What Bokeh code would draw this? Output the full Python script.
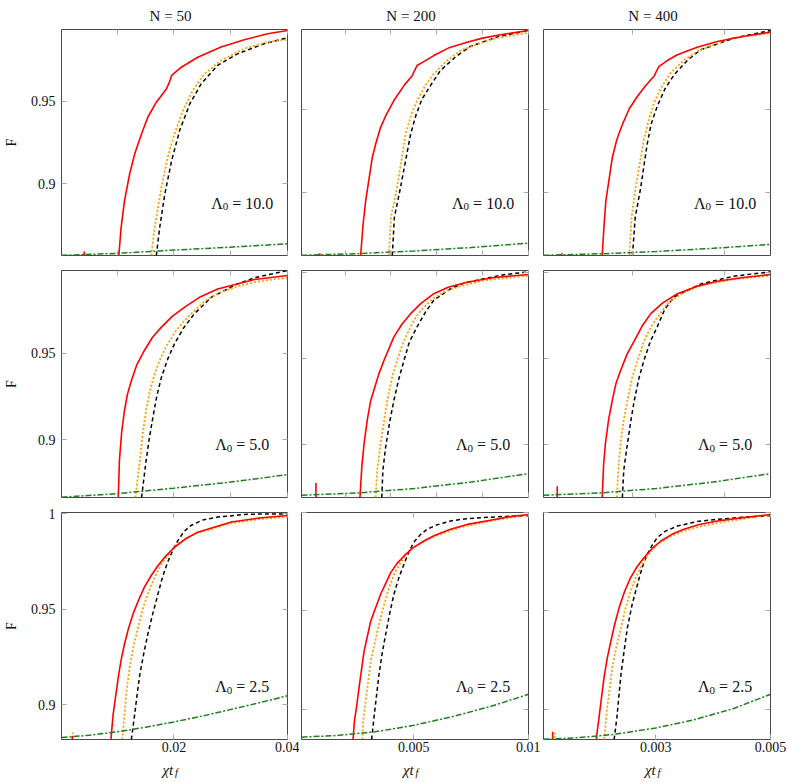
import math
import numpy as np
from bokeh.plotting import figure
from bokeh.layouts import row, column
from bokeh.models import Label, LinearAxis, FixedTicker, Range1d
from bokeh.embed import file_html
from bokeh.resources import INLINE

nan = float("nan")

# ---------------- categories / axes ----------------
COL_N = [50, 200, 400]
ROW_LAMBDA = ["10.0", "5.0", "2.5"]
X_LIMITS = [(0.0002, 0.04), (0.0001, 0.01), (0.00005, 0.005)]
Y_LIMITS = [[(0.8561, 0.9939), (0.8621, 0.9982), (0.8621, 0.9982)],
            [(0.8666, 0.9977), (0.8692, 1.0013), (0.8692, 1.0013)],
            [(0.8818, 1.0007), (0.8846, 1.0001), (0.8846, 1.0001)]]
X_TICKS_INNER = [[0.01, 0.02, 0.03, 0.04], [0.002, 0.004, 0.006, 0.008, 0.01], [0.002, 0.004]]
X_TICKS_BOTTOM = [[0.02, 0.04], [0.005, 0.01], [0.0025, 0.005]]
X_TICK_LABELS_BOTTOM = [["0.02", "0.04"], ["0.005", "0.01"], ["0.003", "0.005"]]
Y_TICKS = [0.85, 0.9, 0.95, 1.0]
Y_TICK_LABELS = ["0.85", "0.9", "0.95", "1"]
X_LABEL_MAIN = "χt"
X_LABEL_SUB = "f"
Y_LABEL = "F"

# ---------------- data: Lambda0 = 10.0 ----------------
red_x_L10_N50 = [0.0042, 0.0042, nan, 0.0103, 0.0107, 0.0113, 0.0122, 0.0131, 0.0143, 0.0154, 0.0169, 0.0187, 0.0192, 0.0196, 0.0213, 0.0242, 0.0283, 0.0324, 0.0365, 0.0400]
red_F_L10_N50 = [0.850, 0.8585, nan, 0.8561, 0.8733, 0.8896, 0.9059, 0.9181, 0.9303, 0.9404, 0.9496, 0.9578, 0.9618, 0.9659, 0.9709, 0.9770, 0.9832, 0.9877, 0.9913, 0.9933]
orange_x_L10_N50 = [0.0160, 0.0166, 0.0178, 0.0189, 0.0201, 0.0216, 0.0233, 0.0254, 0.0283, 0.0324, 0.0365, 0.0400]
orange_F_L10_N50 = [0.8561, 0.8733, 0.8977, 0.9160, 0.9303, 0.9445, 0.9567, 0.9669, 0.9750, 0.9822, 0.9862, 0.9878]
black_x_L10_N50 = [0.0169, 0.0175, 0.0184, 0.0196, 0.0210, 0.0228, 0.0248, 0.0277, 0.0312, 0.0359, 0.0400]
black_F_L10_N50 = [0.8561, 0.8733, 0.8937, 0.9140, 0.9323, 0.9486, 0.9608, 0.9720, 0.9791, 0.9852, 0.9889]
green_x_L10_N50 = [0.0002, 0.01, 0.02, 0.03, 0.04]
green_F_L10_N50 = [0.8562, 0.8574, 0.8594, 0.8612, 0.8632]

red_x_L10_N200 = [0.0009, 0.0009, nan, 0.00268, 0.00278, 0.00290, 0.00319, 0.00335, 0.00355, 0.00380, 0.00413, 0.00460, 0.00493, 0.00503, 0.00514, 0.00545, 0.00587, 0.00650, 0.00732, 0.00800, 0.00877, 0.01]
red_F_L10_N200 = [0.855, 0.8635, nan, 0.8621, 0.8800, 0.8952, 0.9213, 0.9300, 0.9393, 0.9470, 0.9554, 0.9650, 0.9704, 0.9735, 0.9765, 0.9790, 0.9825, 0.9870, 0.9905, 0.9930, 0.9950, 0.9976]
orange_x_L10_N200 = [0.00391, 0.00400, 0.00427, 0.00464, 0.00490, 0.00514, 0.00550, 0.00587, 0.00640, 0.00703, 0.00780, 0.00862, 0.01]
orange_F_L10_N200 = [0.8621, 0.8850, 0.9032, 0.9353, 0.9475, 0.9554, 0.9645, 0.9715, 0.9790, 0.9855, 0.9895, 0.9931, 0.9962]
black_x_L10_N200 = [0.00406, 0.00415, 0.00442, 0.00486, 0.00510, 0.00536, 0.00580, 0.00616, 0.00680, 0.00746, 0.00870, 0.01]
black_F_L10_N200 = [0.8621, 0.8850, 0.9032, 0.9353, 0.9470, 0.9564, 0.9660, 0.9735, 0.9815, 0.9880, 0.9940, 0.9976]
green_x_L10_N200 = [0.0001, 0.0025, 0.005, 0.0075, 0.01]
green_F_L10_N200 = [0.8622, 0.8632, 0.8648, 0.8669, 0.8695]

red_x_L10_N400 = [0.00045, 0.00045, nan, 0.00133, 0.00137, 0.00141, 0.00155, 0.00165, 0.00177, 0.00192, 0.00210, 0.00228, 0.00246, 0.00252, 0.00257, 0.00275, 0.00297, 0.00340, 0.00384, 0.0044, 0.005]
red_F_L10_N400 = [0.855, 0.8635, nan, 0.8621, 0.8800, 0.8950, 0.9210, 0.9320, 0.9410, 0.9505, 0.9580, 0.9645, 0.9700, 0.9735, 0.9760, 0.9795, 0.9830, 0.9875, 0.9910, 0.9940, 0.9966]
orange_x_L10_N400 = [0.00192, 0.00197, 0.00206, 0.00224, 0.00235, 0.00246, 0.00260, 0.00282, 0.00310, 0.00340, 0.00413, 0.005]
orange_F_L10_N400 = [0.8621, 0.8850, 0.9030, 0.9320, 0.9440, 0.9540, 0.9625, 0.9720, 0.9795, 0.9850, 0.9930, 0.9960]
black_x_L10_N400 = [0.00199, 0.00205, 0.00217, 0.00231, 0.00240, 0.00253, 0.00270, 0.00290, 0.00320, 0.00348, 0.0042, 0.005]
black_F_L10_N400 = [0.8621, 0.8850, 0.9030, 0.9290, 0.9415, 0.9520, 0.9625, 0.9710, 0.9800, 0.9860, 0.9930, 0.9976]
green_x_L10_N400 = [0.00005, 0.00125, 0.0025, 0.00375, 0.005]
green_F_L10_N400 = [0.8622, 0.8631, 0.8645, 0.8664, 0.8688]

# ---------------- data: Lambda0 = 5.0 ----------------
red_x_L5_N50 = [0.0102, 0.0104, 0.0108, 0.0113, 0.0118, 0.0125, 0.0135, 0.0148, 0.0162, 0.0178, 0.0197, 0.0219, 0.0245, 0.0277, 0.0342, 0.04]
red_F_L5_N50 = [0.8666, 0.8880, 0.9045, 0.9170, 0.9260, 0.9340, 0.9435, 0.9515, 0.9590, 0.9650, 0.9712, 0.9765, 0.9822, 0.9870, 0.9925, 0.9948]
orange_x_L5_N50 = [0.0132, 0.0140, 0.0145, 0.0151, 0.0158, 0.0166, 0.0177, 0.0189, 0.0205, 0.0224, 0.0254, 0.0280, 0.0312, 0.0350, 0.04]
orange_F_L5_N50 = [0.8666, 0.8880, 0.9035, 0.9170, 0.9285, 0.9380, 0.9475, 0.9554, 0.9635, 0.9707, 0.9800, 0.9848, 0.9885, 0.9915, 0.9935]
black_x_L5_N50 = [0.0143, 0.0151, 0.0157, 0.0163, 0.0170, 0.0178, 0.0189, 0.0201, 0.0217, 0.0236, 0.0266, 0.0312, 0.0342, 0.04]
black_F_L5_N50 = [0.8666, 0.8880, 0.9015, 0.9130, 0.9255, 0.9360, 0.9465, 0.9554, 0.9645, 0.9727, 0.9823, 0.9900, 0.9935, 0.9977]
green_x_L5_N50 = [0.0002, 0.01, 0.02, 0.03, 0.04]
green_F_L5_N50 = [0.8668, 0.8688, 0.8720, 0.8755, 0.8798]

red_x_L5_N200 = [0.00073, 0.00073, nan, 0.00265, 0.00273, 0.00283, 0.00297, 0.00312, 0.00348, 0.0037, 0.00413, 0.00448, 0.00486, 0.0053, 0.00587, 0.0065, 0.00732, 0.0085, 0.01]
red_F_L5_N200 = [0.860, 0.8776, nan, 0.8692, 0.8870, 0.9006, 0.9145, 0.9257, 0.9413, 0.9491, 0.9627, 0.9700, 0.9762, 0.9820, 0.9878, 0.9915, 0.9945, 0.9972, 0.9990]
orange_x_L5_N200 = [0.00333, 0.00340, 0.00355, 0.00384, 0.00405, 0.00427, 0.00455, 0.00486, 0.0051, 0.00544, 0.0058, 0.00631, 0.0070, 0.00804, 0.01]
orange_F_L5_N200 = [0.8692, 0.8850, 0.9006, 0.9257, 0.9390, 0.9490, 0.9600, 0.9685, 0.9745, 0.9800, 0.9845, 0.9888, 0.9920, 0.9955, 0.9983]
black_x_L5_N200 = [0.00360, 0.00365, 0.00377, 0.00395, 0.00413, 0.00435, 0.00457, 0.0048, 0.00514, 0.0055, 0.00587, 0.0066, 0.0072, 0.00804, 0.009, 0.01]
black_F_L5_N200 = [0.8692, 0.8850, 0.8986, 0.9135, 0.9257, 0.9385, 0.9490, 0.9595, 0.9685, 0.9770, 0.9840, 0.9907, 0.9940, 0.9965, 0.9990, 1.0005]
green_x_L5_N200 = [0.0001, 0.0025, 0.005, 0.0075, 0.01]
green_F_L5_N200 = [0.8705, 0.8718, 0.8744, 0.8782, 0.8831]

red_x_L5_N400 = [0.00035, 0.00035, nan, 0.00133, 0.00136, 0.00140, 0.00147, 0.00155, 0.00163, 0.00173, 0.00187, 0.00203, 0.0022, 0.00239, 0.00265, 0.00297, 0.0034, 0.00384, 0.0044, 0.005]
red_F_L5_N400 = [0.860, 0.8757, nan, 0.8692, 0.8880, 0.9006, 0.9145, 0.9257, 0.9355, 0.9430, 0.9525, 0.9604, 0.9690, 0.9762, 0.9825, 0.9878, 0.9922, 0.9950, 0.9972, 0.9990]
orange_x_L5_N400 = [0.00165, 0.00168, 0.00173, 0.00180, 0.00188, 0.00198, 0.00210, 0.00224, 0.00239, 0.00275, 0.0031, 0.00348, 0.0042, 0.005]
orange_F_L5_N400 = [0.8692, 0.8850, 0.9006, 0.9145, 0.9257, 0.9385, 0.9490, 0.9600, 0.9685, 0.9820, 0.9885, 0.9925, 0.9962, 0.9983]
black_x_L5_N400 = [0.00177, 0.00180, 0.00187, 0.00195, 0.00203, 0.00213, 0.00224, 0.00238, 0.00253, 0.0027, 0.0029, 0.00348, 0.0042, 0.005]
black_F_L5_N400 = [0.8692, 0.8850, 0.8986, 0.9130, 0.9257, 0.9385, 0.9490, 0.9600, 0.9685, 0.9790, 0.9859, 0.9935, 0.9980, 1.0005]
green_x_L5_N400 = [0.00005, 0.00125, 0.0025, 0.00375, 0.005]
green_F_L5_N400 = [0.8705, 0.8718, 0.8744, 0.8782, 0.8831]

# ---------------- data: Lambda0 = 2.5 ----------------
red_x_L2_N50 = [0.0021, 0.0021, nan, 0.0089, 0.0093, 0.0102, 0.0107, 0.0113, 0.0120, 0.0128, 0.0138, 0.0148, 0.0160, 0.0172, 0.0186, 0.0201, 0.0220, 0.0242, 0.0301, 0.0350, 0.04]
red_F_L2_N50 = [0.870, 0.8838, nan, 0.8818, 0.8951, 0.9143, 0.9235, 0.9318, 0.9400, 0.9476, 0.9550, 0.9616, 0.9677, 0.9729, 0.9780, 0.9825, 0.9868, 0.9904, 0.9957, 0.9978, 0.9991]
orange_x_L2_N50 = [0.0022, 0.0022, nan, 0.0109, 0.0113, 0.0117, 0.0122, 0.0129, 0.0137, 0.0145, 0.0154, 0.0165, 0.0178, 0.0201, 0.0220, 0.0242, 0.0300, 0.0350, 0.04]
orange_F_L2_N50 = [0.870, 0.8855, nan, 0.8818, 0.8951, 0.9085, 0.9196, 0.9310, 0.9406, 0.9500, 0.9581, 0.9660, 0.9738, 0.9830, 0.9870, 0.9900, 0.9950, 0.9972, 0.9985]
black_x_L2_N50 = [0.0125, 0.0131, 0.0135, 0.0140, 0.0147, 0.0154, 0.0163, 0.0172, 0.0180, 0.0189, 0.0198, 0.0207, 0.0218, 0.0230, 0.0250, 0.0277, 0.0330, 0.04]
black_F_L2_N50 = [0.8818, 0.8951, 0.9050, 0.9160, 0.9270, 0.9370, 0.9480, 0.9581, 0.9670, 0.9747, 0.9810, 0.9860, 0.9908, 0.9939, 0.9967, 0.9983, 0.9998, 1.0000]
green_x_L2_N50 = [0.0002, 0.005, 0.01, 0.015, 0.02, 0.025, 0.03, 0.035, 0.04]
green_F_L2_N50 = [0.8828, 0.8840, 0.8858, 0.8882, 0.8910, 0.8941, 0.8975, 0.9010, 0.9047]

red_x_L2_N200 = [0.00235, 0.00240, 0.00243, 0.00250, 0.00261, 0.00283, 0.00312, 0.00355, 0.00399, 0.00427, 0.00457, 0.00497, 0.00544, 0.0059, 0.0066, 0.0074, 0.00834, 0.0092, 0.01]
red_F_L2_N200 = [0.8846, 0.8930, 0.8957, 0.9010, 0.9110, 0.9296, 0.9449, 0.9585, 0.9695, 0.9742, 0.9780, 0.9822, 0.9856, 0.9884, 0.9916, 0.9942, 0.9962, 0.9980, 0.9991]
orange_x_L2_N200 = [0.00275, 0.00280, 0.0029, 0.00312, 0.0033, 0.00348, 0.0037, 0.00392, 0.00415, 0.00442, 0.00486, 0.00573, 0.0070, 0.0085, 0.01]
orange_F_L2_N200 = [0.8846, 0.8950, 0.9042, 0.9245, 0.9340, 0.9432, 0.9530, 0.9619, 0.9690, 0.9746, 0.9815, 0.9872, 0.9925, 0.9962, 0.9988]
black_x_L2_N200 = [0.00316, 0.00326, 0.00348, 0.00362, 0.00377, 0.00395, 0.00413, 0.00435, 0.00457, 0.0048, 0.005, 0.0053, 0.00558, 0.0060, 0.0066, 0.0072, 0.008, 0.009, 0.01]
black_F_L2_N200 = [0.8846, 0.8957, 0.9178, 0.9285, 0.9381, 0.9490, 0.9585, 0.9670, 0.9738, 0.9805, 0.9850, 0.9890, 0.9916, 0.9938, 0.9958, 0.9968, 0.9975, 0.9981, 0.9985]
green_x_L2_N200 = [0.0001, 0.0016, 0.0033, 0.005, 0.0067, 0.0084, 0.01]
green_F_L2_N200 = [0.8858, 0.8866, 0.8885, 0.8918, 0.8963, 0.9016, 0.9076]

red_x_L2_N400 = [0.00025, 0.00025, nan, 0.00120, 0.00126, 0.00137, 0.00144, 0.00152, 0.00160, 0.00170, 0.00182, 0.00195, 0.00209, 0.00224, 0.00242, 0.00261, 0.00285, 0.00311, 0.00345, 0.00384, 0.0044, 0.005]
red_F_L2_N400 = [0.875, 0.8885, nan, 0.8846, 0.8957, 0.9161, 0.9260, 0.9347, 0.9430, 0.9517, 0.9600, 0.9670, 0.9725, 0.9771, 0.9818, 0.9856, 0.9890, 0.9916, 0.9940, 0.9958, 0.9975, 0.9991]
orange_x_L2_N400 = [0.0003, 0.0003, nan, 0.00137, 0.00144, 0.00155, 0.00164, 0.00174, 0.00184, 0.00195, 0.00209, 0.00224, 0.00238, 0.00253, 0.0028, 0.00311, 0.0035, 0.0039, 0.0045, 0.005]
orange_F_L2_N400 = [0.875, 0.8880, nan, 0.8846, 0.9008, 0.9211, 0.9320, 0.9415, 0.9515, 0.9602, 0.9685, 0.9754, 0.9800, 0.9839, 0.9878, 0.9907, 0.9932, 0.9950, 0.9972, 0.9988]
black_x_L2_N400 = [0.00159, 0.00165, 0.00174, 0.00181, 0.00188, 0.00198, 0.00210, 0.0022, 0.00231, 0.00242, 0.00253, 0.0027, 0.00297, 0.0034, 0.00384, 0.0044, 0.005]
black_F_L2_N400 = [0.8846, 0.8957, 0.9178, 0.9300, 0.9415, 0.9530, 0.9636, 0.9720, 0.9788, 0.9835, 0.9873, 0.9905, 0.9932, 0.9955, 0.9966, 0.9977, 0.9985]
green_x_L2_N400 = [0.00005, 0.0008, 0.0016, 0.0025, 0.0033, 0.0042, 0.005]
green_F_L2_N400 = [0.8847, 0.8855, 0.8872, 0.8905, 0.8944, 0.9004, 0.9076]

PANELS = {
    (0, 0): dict(red=(red_x_L10_N50, red_F_L10_N50), orange=(orange_x_L10_N50, orange_F_L10_N50),
                 black=(black_x_L10_N50, black_F_L10_N50), green=(green_x_L10_N50, green_F_L10_N50)),
    (0, 1): dict(red=(red_x_L10_N200, red_F_L10_N200), orange=(orange_x_L10_N200, orange_F_L10_N200),
                 black=(black_x_L10_N200, black_F_L10_N200), green=(green_x_L10_N200, green_F_L10_N200)),
    (0, 2): dict(red=(red_x_L10_N400, red_F_L10_N400), orange=(orange_x_L10_N400, orange_F_L10_N400),
                 black=(black_x_L10_N400, black_F_L10_N400), green=(green_x_L10_N400, green_F_L10_N400)),
    (1, 0): dict(red=(red_x_L5_N50, red_F_L5_N50), orange=(orange_x_L5_N50, orange_F_L5_N50),
                 black=(black_x_L5_N50, black_F_L5_N50), green=(green_x_L5_N50, green_F_L5_N50)),
    (1, 1): dict(red=(red_x_L5_N200, red_F_L5_N200), orange=(orange_x_L5_N200, orange_F_L5_N200),
                 black=(black_x_L5_N200, black_F_L5_N200), green=(green_x_L5_N200, green_F_L5_N200)),
    (1, 2): dict(red=(red_x_L5_N400, red_F_L5_N400), orange=(orange_x_L5_N400, orange_F_L5_N400),
                 black=(black_x_L5_N400, black_F_L5_N400), green=(green_x_L5_N400, green_F_L5_N400)),
    (2, 0): dict(red=(red_x_L2_N50, red_F_L2_N50), orange=(orange_x_L2_N50, orange_F_L2_N50),
                 black=(black_x_L2_N50, black_F_L2_N50), green=(green_x_L2_N50, green_F_L2_N50)),
    (2, 1): dict(red=(red_x_L2_N200, red_F_L2_N200), orange=(orange_x_L2_N200, orange_F_L2_N200),
                 black=(black_x_L2_N200, black_F_L2_N200), green=(green_x_L2_N200, green_F_L2_N200)),
    (2, 2): dict(red=(red_x_L2_N400, red_F_L2_N400), orange=(orange_x_L2_N400, orange_F_L2_N400),
                 black=(black_x_L2_N400, black_F_L2_N400), green=(green_x_L2_N400, green_F_L2_N400)),
}

# ---------------- styles / layout ----------------
FONT = "Liberation Serif"
STYLES = {
    "black": dict(line_color="black", line_width=1.5, line_dash="4 3"),
    "orange": dict(line_color="#FFA000", line_width=1.8, line_dash="2 2"),
    "red": dict(line_color="#FF0000", line_width=1.6, line_dash="solid"),
    "green": dict(line_color="#1b801b", line_width=1.5, line_dash="6 2 2 2"),
}
ORDER = ["black", "orange", "red", "green"]
FW = [226, 227, 227]
FH = [226, 227, 227]
BL = [57, 2, 3]
BR = [12, 12, 20]
BT = [7, 7, 7]
BB = [8, 8, 20]
TOP_STRIP = 22
BOTTOM_STRIP = 21
TOTAL_W = sum(BL) + sum(FW) + sum(BR)
TICK_COLOR = "#a8a8a8"
TEXT_COLOR = "#111111"

# horizontal centres of the frames (screen px) for the strips
col_centres = []
acc = 0
for c in range(3):
    col_centres.append(acc + BL[c] + FW[c] / 2)
    acc += BL[c] + FW[c] + BR[c]


def style_axis(ax, ticks, labels, show, standoff=5):
    ax.ticker = FixedTicker(ticks=ticks)
    ax.axis_line_color = None
    ax.major_tick_line_color = TICK_COLOR
    ax.major_tick_line_width = 1
    ax.major_tick_in = 5
    ax.major_tick_out = 0
    ax.minor_tick_line_color = None
    if show:
        ax.major_label_overrides = {t: l for t, l in zip(ticks, labels)}
        ax.major_label_text_font = FONT
        ax.major_label_text_font_size = "14px"
        ax.major_label_text_color = TEXT_COLOR
        ax.major_label_standoff = standoff
    else:
        # tick marks only: labels are not painted at all
        ax.major_label_text_font_size = "1px"
        ax.major_label_text_color = None
        ax.major_label_standoff = 0


def lab(p, x, y, text, size, **kw):
    d = dict(text_font=FONT, text_font_size=size, text_color=TEXT_COLOR,
             text_align="left", text_baseline="alphabetic")
    d.update(kw)
    p.add_layout(Label(x=x, y=y, text=text, **d))


def strip(height):
    s = figure(frame_width=TOTAL_W, frame_height=height,
               x_range=Range1d(0, TOTAL_W), y_range=Range1d(height, 0),
               output_backend="svg", toolbar_location=None,
               x_axis_location=None, y_axis_location=None,
               min_border_left=0, min_border_right=0, min_border_top=0, min_border_bottom=0)
    s.grid.visible = False
    s.outline_line_color = None
    s.background_fill_color = "white"
    s.border_fill_color = "white"
    return s


# titles strip
top = strip(TOP_STRIP)
for c in range(3):
    lab(top, col_centres[c], 15, f"N = {COL_N[c]}", "15px", text_align="center")

# x-label strip
bottom = strip(BOTTOM_STRIP)
for c in range(3):
    xc = col_centres[c]
    lab(bottom, xc - 8, 10, X_LABEL_MAIN, "15px", text_font_style="italic")
    lab(bottom, xc + 4.5, 12.5, X_LABEL_SUB, "10.5px", text_font_style="italic")

rows = []
for r in range(3):
    figs = []
    for c in range(3):
        x0, x1 = X_LIMITS[c]
        y0, y1 = Y_LIMITS[r][c]
        p = figure(frame_width=FW[c], frame_height=FH[r],
                   x_range=Range1d(x0, x1), y_range=Range1d(y0, y1),
                   output_backend="svg", toolbar_location=None,
                   min_border_left=BL[c], min_border_right=BR[c],
                   min_border_top=BT[r], min_border_bottom=BB[r])
        p.grid.visible = False
        p.outline_line_color = "#4a4a4a"
        p.outline_line_width = 1
        p.background_fill_color = "white"
        p.border_fill_color = "white"

        if r == 2:
            xt, xl = X_TICKS_BOTTOM[c], X_TICK_LABELS_BOTTOM[c]
        else:
            xt = X_TICKS_INNER[c]
            xl = [str(t) for t in xt]
        style_axis(p.xaxis[0], xt, xl, r == 2, standoff=2)
        style_axis(p.yaxis[0], Y_TICKS, Y_TICK_LABELS, c == 0, standoff=6)
        if c == 0:
            ya = p.yaxis[0]
            ya.axis_label = Y_LABEL
            ya.axis_label_text_font = FONT
            ya.axis_label_text_font_size = "14px"
            ya.axis_label_text_font_style = "normal"
            ya.axis_label_text_color = TEXT_COLOR
            ya.axis_label_standoff = 9
        top_ax = LinearAxis()
        style_axis(top_ax, xt, xl, False)
        p.add_layout(top_ax, "above")
        right_ax = LinearAxis()
        style_axis(right_ax, Y_TICKS, Y_TICK_LABELS, False)
        p.add_layout(right_ax, "right")

        data = PANELS[(r, c)]
        for key in ORDER:
            xs, Fs = data[key]
            p.line(np.array(xs, dtype=float), np.array(Fs, dtype=float), **STYLES[key])

        dx = (x1 - x0) / FW[c]
        dy = (y1 - y0) / FH[r]

        # Lambda_0 label
        fs_main, fs_sub = 16.0, 11.0
        rest = "= " + ROW_LAMBDA[r]
        w_L = 0.722 * fs_main
        w_sub = 0.5 * fs_sub
        w_sp = 0.25 * fs_main
        w_rest = (0.564 + 0.25 + 0.5 * (len(ROW_LAMBDA[r]) - 1) + 0.25) * fs_main
        total = w_L + w_sub + w_sp + w_rest
        cx = x0 + 0.8 * (x1 - x0)
        base = y0 + 0.25 * (y1 - y0) - 4.0 * dy
        start = cx - total / 2 * dx
        lab(p, start, base, "Λ", "16px")
        lab(p, start + w_L * dx, base - 3.5 * dy, "0", "11px")
        lab(p, start + (w_L + w_sub + w_sp) * dx, base, rest, "16px")
        figs.append(p)
    rows.append(row(*figs))

layout = column(top, *rows, bottom)
open("out.html", "w").write(file_html(layout, INLINE))
